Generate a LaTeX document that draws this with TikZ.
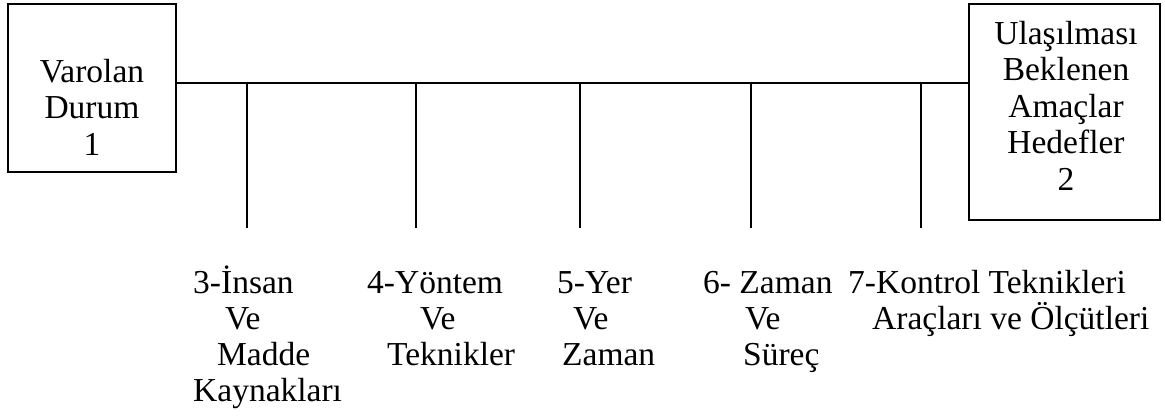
\documentclass[tikz,border=0pt]{standalone}
\usepackage{fontspec}
\setmainfont{Liberation Serif}
\begin{document}
\begin{tikzpicture}[x=1pt,y=-1pt,
  frame/.style={draw=black, line width=2pt, rectangle, inner sep=0pt},
  boxtext/.style={anchor=base, align=center, inner sep=0pt, font=\fontsize{33.5}{36.5}\selectfont},
  lbl/.style={anchor=base west, inner sep=0pt, font=\fontsize{33.5}{36}\selectfont},
  wire/.style={draw=black, line width=2pt}]
\useasboundingbox (0,0) rectangle (1165,416);

% the two end boxes (text nodes anchored at the baseline of their last line)
\node[frame, minimum width=168pt, minimum height=168pt] (cur) at (92,88) {};
\node[boxtext] (curtxt) at (92,155) {Varolan\\Durum\\1};
\node[frame, minimum width=191pt, minimum height=216pt] (goal) at (1064.5,112) {};
\node[boxtext] (goaltxt) at (1066,190) {Ulaşılması\\Beklenen\\Amaçlar\\Hedefler\\2};

% main line and its branches
\coordinate (ylev) at (0,83);
\draw[wire] (cur.east |- ylev) -- (goal.west |- ylev);
\foreach \x [count=\i from 3] in {247,416,580,751,921}{
  \coordinate (t\i) at (\x,228);
  \draw[wire] (t\i |- ylev) -- (t\i);
}

% branch labels
\node[lbl] (l3a) at (193,293) {3-İnsan};
\node[lbl] (l3b) at (225,329) {Ve};
\node[lbl] (l3c) at (217,365) {Madde};
\node[lbl] (l3d) at (193,401) {Kaynakları};

\node[lbl] (l4a) at (367,293) {4-Yöntem};
\node[lbl] (l4b) at (420,329) {Ve};
\node[lbl] (l4c) at (387,365) {Teknikler};

\node[lbl] (l5a) at (557,293) {5-Yer};
\node[lbl] (l5b) at (573,329) {Ve};
\node[lbl] (l5c) at (562,365) {Zaman};

\node[lbl] (l6a) at (703,293) {6- Zaman};
\node[lbl] (l6b) at (745,329) {Ve};
\node[lbl] (l6c) at (743,365) {Süreç};

\node[lbl] (l7a) at (848,293) {7-Kontrol Teknikleri};
\node[lbl] (l7b) at (872,329) {Araçları ve Ölçütleri};
\end{tikzpicture}
\end{document}
